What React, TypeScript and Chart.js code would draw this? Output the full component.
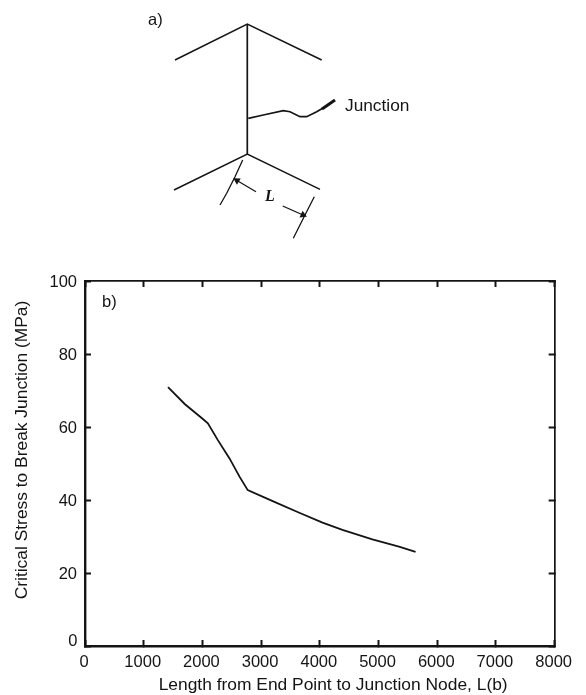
import React, { useEffect, useRef } from "react";
import { Chart, registerables } from "chart.js";

Chart.register(...registerables);

const INK = "#141414";
const SANS = "'Liberation Sans', Arial, sans-serif";

// Panel b) curve
const lengthValues = [1414, 1698, 2008, 2093, 2263, 2462, 2632, 2772, 3197, 3650, 4046, 4385, 4895, 5348, 5631];
const stressValues = [70.9, 66.3, 62.2, 61.0, 56.4, 51.4, 46.4, 42.7, 39.7, 36.5, 33.8, 31.8, 29.2, 27.2, 25.8];
const xLimits = [0, 8000];
const yLimits = [0, 100];
const xStep = 1000;
const yStep = 20;
const xTitle = "Length from End Point to Junction Node, L(b)";
const yTitle = "Critical Stress to Break Junction (MPa)";

// Panel a) schematic, in the schematic's own units
const topV = [[175, 60], [247.3, 24], [321.7, 60]];
const stem = [[247.3, 24], [247.3, 154]];
const bottomV = [[174, 190], [247.3, 154], [320, 189.3]];
const junctionLine = [[248.3, 118.3], [263.3, 115], [283.3, 110.7], [290, 111.7], [300, 116.7], [306.7, 116.7], [316.7, 111.7], [330, 104]];
const junctionHead = [[322, 109], [335, 100]];
const leftBar = [[242.7, 160], [235, 176.7], [226.7, 193.3], [220, 205]];
const rightBar = [[314.3, 196.7], [305, 215], [293.3, 238.3]];
const leftArrow = [[256, 191.7], [237, 180.5]];
const rightArrow = [[282.7, 206], [303, 215]];

type Note = { text: string; x: number; y: number; font: string; align?: CanvasTextAlign; rotate?: number };
const schematicNotes: Note[] = [
  { text: "a)", x: 148, y: 20, font: `16.5px ${SANS}` },
  { text: "Junction", x: 345, y: 106, font: `17.3px ${SANS}` },
  { text: "L", x: 265, y: 197, font: `italic bold 16px 'Liberation Serif', serif` },
];
const plotNotes: Note[] = [
  { text: "b)", x: 290, y: 94, font: `16.5px ${SANS}` },
  { text: "0", x: -130, y: 1.3, font: `16.5px ${SANS}`, align: "right" },
  { text: xTitle, x: 4227, y: -10.7, font: `17.4px ${SANS}`, align: "center" },
  { text: yTitle, x: -1070, y: 53.7, font: `17.4px ${SANS}`, align: "center", rotate: -Math.PI / 2 },
];

const toXY = (pts: number[][]) => pts.map(([x, y]) => ({ x, y }));
const seg = (pts: number[][], borderWidth = 1.5, extra: object = {}) => ({
  data: toXY(pts),
  showLine: true,
  borderColor: INK,
  backgroundColor: INK,
  borderWidth,
  pointRadius: 0,
  tension: 0,
  ...extra,
});

const notesPlugin = (notes: Note[], xId: string, yId: string) => ({
  id: "notes",
  afterDraw(chart: any) {
    const { ctx, scales } = chart;
    for (const n of notes) {
      ctx.save();
      ctx.fillStyle = INK;
      ctx.textBaseline = "middle";
      ctx.font = n.font;
      ctx.textAlign = n.align ?? "left";
      ctx.translate(scales[xId].getPixelForValue(n.x), scales[yId].getPixelForValue(n.y));
      if (n.rotate) ctx.rotate(n.rotate);
      ctx.fillText(n.text, 0, 0);
      ctx.restore();
    }
  },
});

const fixedSize = (size: number) => (scale: any) => {
  if (scale.isHorizontal()) scale.height = size;
  else scale.width = size;
};

export default function App() {
  const plotRef = useRef<HTMLCanvasElement>(null);
  const sketchRef = useRef<HTMLCanvasElement>(null);

  useEffect(() => {
    const tickFont = { family: SANS, size: 16.5 };
    const edge = (tickLength: number) => ({
      drawOnChartArea: false,
      drawTicks: true,
      tickLength,
      tickWidth: 2,
      tickColor: INK,
    });
    const plot = new Chart(plotRef.current!, {
      type: "scatter",
      data: {
        datasets: [
          {
            data: lengthValues.map((x, i) => ({ x, y: stressValues[i] })),
            showLine: true,
            borderColor: INK,
            borderWidth: 1.8,
            pointRadius: 0,
            tension: 0,
          },
        ],
      },
      options: {
        animation: false,
        responsive: false,
        layout: { padding: 0, autoPadding: false },
        plugins: { legend: { display: false }, tooltip: { enabled: false } },
        scales: {
          x: {
            type: "linear",
            position: "bottom",
            min: xLimits[0],
            max: xLimits[1],
            afterFit: fixedSize(49),
            border: { color: INK, width: 2.4 },
            grid: edge(-6),
            ticks: { stepSize: xStep, color: INK, font: tickFont, padding: 13, labelOffset: -1, maxRotation: 0, autoSkip: false, callback: (v: any) => String(v) },
          },
          y: {
            type: "linear",
            position: "left",
            min: yLimits[0],
            max: yLimits[1],
            afterFit: fixedSize(85),
            border: { color: INK, width: 2.4 },
            grid: edge(-6),
            ticks: { stepSize: yStep, color: INK, font: tickFont, padding: 14, labelOffset: 1.5, autoSkip: false, callback: (v: any) => (v === 0 ? "" : String(v)) },
          },
          x2: {
            type: "linear",
            position: "top",
            axis: "x",
            min: xLimits[0],
            max: xLimits[1],
            afterFit: fixedSize(281),
            border: { color: INK, width: 1.7 },
            grid: edge(-6),
            ticks: { stepSize: xStep, display: false },
          },
          y2: {
            type: "linear",
            position: "right",
            axis: "y",
            min: yLimits[0],
            max: yLimits[1],
            afterFit: fixedSize(30),
            border: { color: INK, width: 1.7 },
            grid: edge(-6),
            ticks: { stepSize: yStep, display: false },
          },
        } as any,
      },
      plugins: [notesPlugin(plotNotes, "x", "y")],
    } as any);

    const sketch = new Chart(sketchRef.current!, {
      type: "scatter",
      data: {
        datasets: [
          seg(topV),
          seg(stem, 1.7),
          seg(bottomV),
          seg(junctionLine, 1.7),
          seg(junctionHead, 3),
          seg(leftBar, 1.3),
          seg(rightBar, 1.3),
          seg(leftArrow, 1.3, { pointRadius: [0, 3], pointStyle: "triangle", rotation: -59 }),
          seg(rightArrow, 1.3, { pointRadius: [0, 3], pointStyle: "triangle", rotation: 114 }),
        ],
      },
      options: {
        animation: false,
        responsive: false,
        layout: { padding: 0, autoPadding: false },
        plugins: { legend: { display: false }, tooltip: { enabled: false } },
        scales: {
          x: { type: "linear", display: false, min: 0, max: 586 },
          y: { type: "linear", display: false, min: 0, max: 250, reverse: true },
        },
      },
      plugins: [notesPlugin(schematicNotes, "x", "y")],
    } as any);

    return () => {
      plot.destroy();
      sketch.destroy();
    };
  }, []);

  return (
    <div style={{ position: "absolute", left: 0, top: 0, width: 586, height: 695, background: "#fff", overflow: "hidden" }}>
      <canvas ref={plotRef} width={586} height={695} style={{ position: "absolute", left: 0, top: 0, display: "block" }} />
      <canvas ref={sketchRef} width={586} height={250} style={{ position: "absolute", left: 0, top: 0, display: "block" }} />
    </div>
  );
}
